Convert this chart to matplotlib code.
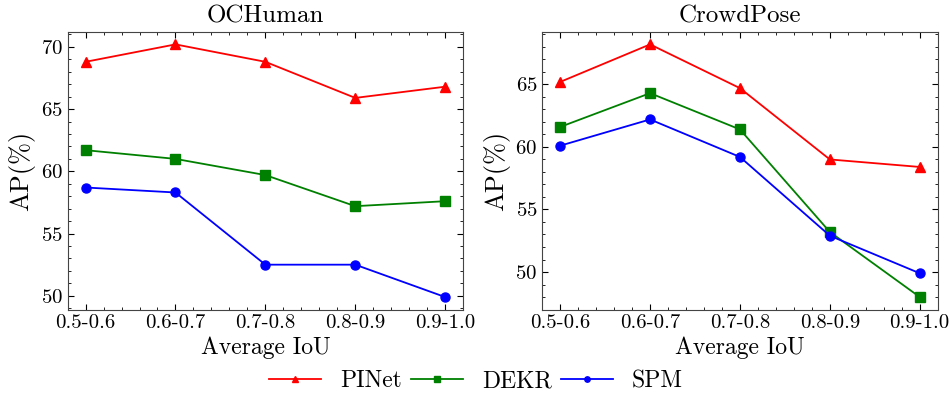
import matplotlib
matplotlib.use("Agg")
import matplotlib.pyplot as plt
from matplotlib.ticker import AutoMinorLocator, MultipleLocator

plt.rcParams.update({
    "font.family": "serif",
    "font.serif": ["cmr10", "DejaVu Serif"],
    "mathtext.fontset": "cm",
    "axes.unicode_minus": False,
    "axes.formatter.use_mathtext": True,
})

categories = ["0.5-0.6", "0.6-0.7", "0.7-0.8", "0.8-0.9", "0.9-1.0"]
datasets = ["OCHuman", "CrowdPose"]
series_names = ["PINet", "DEKR", "SPM"]

ochuman_pinet = [68.8, 70.2, 68.8, 65.9, 66.8]
ochuman_dekr = [61.7, 61.0, 59.7, 57.2, 57.6]
ochuman_spm = [58.7, 58.3, 52.5, 52.5, 49.9]

crowdpose_pinet = [65.2, 68.2, 64.7, 59.0, 58.4]
crowdpose_dekr = [61.6, 64.3, 61.4, 53.2, 48.0]
crowdpose_spm = [60.1, 62.2, 59.2, 52.9, 49.9]

values = {
    "OCHuman": [ochuman_pinet, ochuman_dekr, ochuman_spm],
    "CrowdPose": [crowdpose_pinet, crowdpose_dekr, crowdpose_spm],
}
colors = ["red", "green", "blue"]
markers = ["^", "s", "o"]

fig, axes = plt.subplots(1, 2, figsize=(9.52, 3.97), dpi=100)
fig.subplots_adjust(left=0.071, right=0.985, top=0.92, bottom=0.22, wspace=0.2)

x = list(range(len(categories)))
handles = []
for ax, name in zip(axes, datasets):
    for vals, c, m, lab in zip(values[name], colors, markers, series_names):
        h, = ax.plot(x, vals, color=c, marker=m, markersize=6.5, linewidth=1.3, label=lab)
        if name == "OCHuman":
            handles.append(h)
    ax.set_title(name, fontsize=18, pad=7)
    ax.set_xlabel("Average IoU", fontsize=17, labelpad=3)
    ax.set_ylabel("AP(%)", fontsize=19)
    ax.set_xticks(x)
    ax.set_xticklabels(categories)
    ax.yaxis.set_major_locator(MultipleLocator(5))
    ax.xaxis.set_minor_locator(AutoMinorLocator(5))
    ax.yaxis.set_minor_locator(AutoMinorLocator(5))
    ax.tick_params(which="both", direction="in", top=True, right=True, labelsize=15)
    ax.tick_params(which="major", length=4)
    ax.tick_params(which="minor", length=2)
    for sp in ax.spines.values():
        sp.set_color("#444444")

fig.legend(handles=handles, labels=series_names, loc="center", ncol=3,
           frameon=False, fontsize=17, bbox_to_anchor=(0.5, 16 / 397),
           handlelength=2.2, columnspacing=0.4, markerscale=0.6,
           borderpad=0.1)

fig.savefig("out.png", dpi=100)
